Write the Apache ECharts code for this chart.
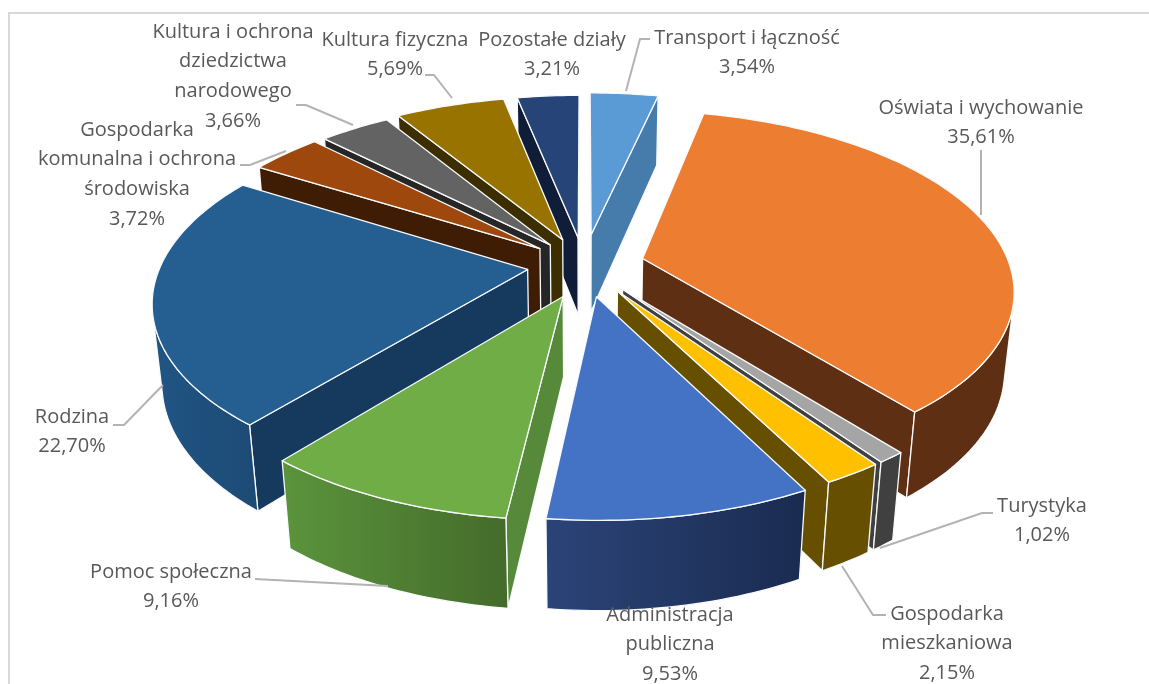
<!DOCTYPE html>
<html>
<head>
<meta charset="utf-8">
<script src="https://cdn.jsdelivr.net/npm/echarts@6/dist/echarts.min.js"></script>
<style>html,body{margin:0;padding:0;background:#fff}#c{width:1149px;height:684px}</style>
</head>
<body>
<div id="c"></div>
<script>
// ---- data ----
const categories = ['Transport i łączność','Oświata i wychowanie','Turystyka','Gospodarka mieszkaniowa','Administracja publiczna','Pomoc społeczna','Rodzina','Gospodarka komunalna i ochrona środowiska','Kultura i ochrona dziedzictwa narodowego','Kultura fizyczna','Pozostałe działy'];
const shares = [3.54,35.61,1.02,2.15,9.53,9.16,22.70,3.72,3.66,5.69,3.21];
const labelLines = [
  ['Transport i łączność'],['Oświata i wychowanie'],['Turystyka'],['Gospodarka','mieszkaniowa'],['Administracja','publiczna'],['Pomoc społeczna'],['Rodzina'],['Gospodarka','komunalna i ochrona','środowiska'],['Kultura i ochrona','dziedzictwa','narodowego'],['Kultura fizyczna'],['Pozostałe działy']
];
// ---- styles ----
const topColors = ['#5b9bd5','#ed7d31','#a5a5a5','#ffc000','#4472c4','#70ad47','#255e91','#9e480e','#636363','#997300','#264478'];
const faceColors = ['#457cab','#5e2f13','#404040','#665000','#1b2d52','#568a3a','#163a5e','#3f1d05','#262626','#3d2e00','#0f1d38'];
const wallLight = ['#41719c','#5e2f13','#404040','#665000','#2b4478','#5b943c','#215584','#3f1d05','#262626','#3d2e00','#0f1d38'];
const wallDark  = ['#41719c','#5e2f13','#404040','#665000','#1a2b50','#446b2b','#1c4a74','#3f1d05','#262626','#3d2e00','#0f1d38'];
const explode = [0.18,0.165,0.17,0.17,0.18,0.184,0.155,0.155,0.15,0.16,0.16];
const explodeTurn = [0,0,0,0,0,-5.7,0,0,0,0,0];
// ---- layout ----
const CX = 584, CY = 265, FOCAL = 1945, DIST = 5.3, TILT = 28.4 * Math.PI / 180, HEIGHT = 0.249;
const labelCenter = [[747,38],[981,108],[1042,506],[947,614],[670,615],[171,572],[72,417],[137,130],[233,32],[395,40],[552,40]];
const LINE_H = 29.6;
const leaders = [
  [[650,39],[640,39],[626,91]],
  [[981,150],[981,215]],
  [[993,513],[982,513],[880,548]],
  [[886,615],[873,615],[842,566]],
  [],
  [[255,579],[388,586]],
  [[113,425],[124,425],[163,385]],
  [[240,165],[250,165],[286,151]],
  [[296,105],[306,105],[353,125]],
  [[425,75],[434,75],[452,98]],
  []
];

const cosA = Math.cos(TILT), sinA = Math.sin(TILT);
function project(X, Y, Z) {
  const D = DIST - Y * cosA - Z * sinA;
  const u = -Y * sinA + Z * cosA;
  return [CX + FOCAL * X / D, CY - FOCAL * u / D];
}
const total = shares.reduce((a, b) => a + b, 0);
let acc = 0;
const arcs = shares.map(v => {
  const a0 = acc / total * 2 * Math.PI;
  acc += v;
  return [a0, acc / total * 2 * Math.PI];
});
const order = shares.map((_, i) => i).sort((p, q) =>
  -Math.cos((arcs[p][0] + arcs[p][1]) / 2) + Math.cos((arcs[q][0] + arcs[q][1]) / 2));

function slice(i) {
  const [a0, a1] = arcs[i];
  const mid = (a0 + a1) / 2 + explodeTurn[i] * Math.PI / 180;
  const ox = explode[i] * Math.sin(mid), oy = -explode[i] * Math.cos(mid);
  const pt = (t, z, r) => project(ox + r * Math.sin(t), oy - r * Math.cos(t), z);
  const steps = Math.max(6, Math.ceil((a1 - a0) / 0.02));
  const angs = [];
  for (let k = 0; k <= steps; k++) angs.push(a0 + (a1 - a0) * k / steps);
  const stroke = { stroke: '#f8fafc', lineWidth: 1.3, lineJoin: 'round' };
  const children = [];
  const camY = DIST * cosA;
  const face = (t, sgn) => {
    const nx = sgn * Math.cos(t), ny = sgn * Math.sin(t);
    if (nx * (-ox) + ny * (camY - oy) <= 0) return;
    children.push({
      type: 'polygon',
      shape: { points: [pt(t,0,0), pt(t,0,1), pt(t,-HEIGHT,1), pt(t,-HEIGHT,0)] },
      style: Object.assign({ fill: faceColors[i] }, stroke)
    });
  };
  face(a0, -1);
  face(a1, 1);
  // outer wall: only the part that faces the camera
  const vis = angs.filter(t => {
    const nx = Math.sin(t), ny = -Math.cos(t);
    return ny * camY - (nx * (ox + nx) + ny * (oy + ny)) > 0;
  });
  if (vis.length > 1) {
    const up = vis.map(t => pt(t, 0, 1));
    const dn = vis.map(t => pt(t, -HEIGHT, 1)).reverse();
    children.push({
      type: 'polygon',
      shape: { points: up.concat(dn) },
      style: Object.assign({
        fill: new echarts.graphic.LinearGradient(0, 0, 1, 0, [
          { offset: 0, color: wallLight[i] }, { offset: 1, color: wallDark[i] }
        ])
      }, stroke)
    });
  }
  children.push({
    type: 'polygon',
    shape: { points: [pt(a0,0,0)].concat(angs.map(t => pt(t,0,1))) },
    style: Object.assign({ fill: topColors[i] }, stroke)
  });
  return { type: 'group', children };
}

function label(i) {
  const children = [];
  if (leaders[i].length) children.push({
    type: 'polyline', shape: { points: leaders[i] },
    style: { fill: 'none', stroke: '#b3b3b3', lineWidth: 2 }
  });
  const lines = labelLines[i].concat([shares[i].toFixed(2).replace('.', ',') + '%']);
  lines.forEach((s, k) => children.push({
    type: 'text',
    style: {
      text: s, x: labelCenter[i][0], y: labelCenter[i][1] + k * LINE_H,
      align: 'center', verticalAlign: 'middle',
      fontFamily: 'Open Sans', fontSize: 20, fill: '#595959'
    }
  }));
  return { type: 'group', children };
}

const chart = echarts.init(document.getElementById('c'), null, { renderer: 'canvas' });
chart.setOption({
  animation: false,
  backgroundColor: '#fff',
  graphic: [
    { type: 'polyline', z: 0, shape: { points: [[9,684],[9,13],[1149,13]] }, style: { fill: 'none', stroke: '#d9d9d9', lineWidth: 2 } }
  ],
  series: [
    {
      type: 'custom', coordinateSystem: 'none', silent: true, z: 2,
      data: order.map(i => ({ name: categories[i], value: [i, shares[i]] })),
      renderItem: (p, api) => slice(api.value(0))
    },
    {
      type: 'custom', coordinateSystem: 'none', silent: true, z: 3,
      data: shares.map((v, i) => ({ name: categories[i], value: [i, v] })),
      renderItem: (p, api) => label(api.value(0))
    }
  ]
});
</script>
</body>
</html>
